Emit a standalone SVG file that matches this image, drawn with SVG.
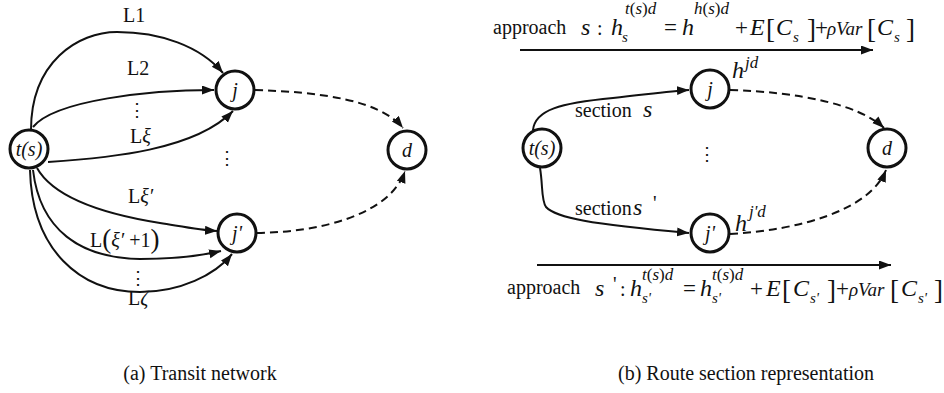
<svg xmlns="http://www.w3.org/2000/svg" width="944" height="393" viewBox="0 0 944 393" font-family="'Liberation Serif','Times New Roman',serif">
<style>
.n{fill:#fff;stroke:#111;stroke-width:3}
.e{fill:none;stroke:#111;stroke-width:2;marker-end:url(#ah)}
.d{fill:none;stroke:#111;stroke-width:2;stroke-dasharray:8 5;marker-end:url(#ah)}
text{font-family:"Liberation Serif","Times New Roman",serif;fill:#111}
.t{font-size:20px}
.m{font-size:24px;font-style:italic}
.rv{font-size:19px;font-style:italic}
.o{font-size:23px}
.i{font-style:italic}
.lb{font-size:20px;font-style:italic;text-anchor:middle}
.sup{font-size:17px;font-style:italic}
.sub{font-size:15px;font-style:italic}
.br{font-size:27px}
.dots{font-family:"DejaVu Serif",serif;font-size:18px;text-anchor:middle}
</style>
<defs>
<marker id="ah" markerUnits="userSpaceOnUse" markerWidth="14" markerHeight="10" refX="12" refY="4.5" orient="auto">
<path d="M0,0 L12,4.5 L0,9 z" fill="#111"/>
</marker>
</defs>
<g id="connectors">
<path class="e" d="M31,130 C31,62 78,32 117,32 C160,32 200,46 223,73"/>
<path class="e" d="M33,127 C55,100 150,90 214,90"/>
<path class="e" d="M48,162 C110,158 195,150 233,111"/>
<path class="e" d="M37,168 C55,200 110,215 160,223 C185,227 200,230 217,231"/>
<path class="e" d="M33,170 C40,230 80,258 140,259 C175,259 200,256 221,251"/>
<path class="e" d="M30,170 C32,250 80,292 140,292 C180,292 215,275 232,254"/>
<path class="d" d="M255,90 C320,92 380,100 403,128"/>
<path class="d" d="M257,233 C320,232 390,215 405,171"/>
<path class="e" d="M533,130 C535,110 560,103 613,98 C650,94 670,91 689,90"/>
<path class="e" d="M540,168 C543,185 541,200 546,207 C556,218 590,224 689,233"/>
<path class="d" d="M730,90 C800,92 860,105 884,128"/>
<path class="d" d="M730,234 C800,230 870,210 886,170"/>
<path class="e" d="M520,50 L873,50"/>
<path class="e" d="M537,265 L891,265"/>
</g>
<g id="node-ts-a"><circle class="n" cx="29" cy="149" r="19"/><text class="lb" x="29" y="156">t(s)</text></g>
<g id="node-j-a"><circle class="n" cx="235" cy="90" r="19"/><text class="lb" x="235" y="97">j</text></g>
<g id="node-jp-a"><circle class="n" cx="237" cy="233" r="19"/><text class="lb" x="237" y="240">j'</text></g>
<g id="node-d-a"><circle class="n" cx="407" cy="150" r="19"/><text class="lb" x="407" y="157">d</text></g>
<g id="node-ts-b"><circle class="n" cx="542" cy="148" r="19"/><text class="lb" x="542" y="155">t(s)</text></g>
<g id="node-j-b"><circle class="n" cx="710" cy="89" r="19"/><text class="lb" x="710" y="96">j</text></g>
<g id="node-jp-b"><circle class="n" cx="710" cy="233" r="19"/><text class="lb" x="710" y="240">j'</text></g>
<g id="node-d-b"><circle class="n" cx="887" cy="148" r="19"/><text class="lb" x="887" y="155">d</text></g>
<g id="labels-a">
<text class="t" x="123" y="22">L1</text>
<text class="t" x="127" y="75">L2</text>
<text class="dots" x="137" y="116">⋮</text>
<text class="t" x="130" y="143">L<tspan class="i">ξ</tspan></text>
<text class="dots" x="227" y="164">⋮</text>
<text class="t" x="128" y="203">L<tspan class="i">ξ′</tspan></text>
<text class="t" x="90" y="247">L<tspan class="br" dy="1">(</tspan><tspan class="i" dy="-1">ξ′</tspan> +1<tspan class="br" dy="1">)</tspan></text>
<text class="dots" x="138" y="284">⋮</text>
<text class="t" x="128" y="305">L<tspan class="i">ζ</tspan></text>
</g>
<g id="labels-b">
<text class="t" x="575" y="117">section</text><text class="m" x="643" y="117">s</text>
<text class="t" x="575" y="215">section</text><text class="m" x="633" y="215">s</text><text class="t" x="653" y="210">'</text>
<text class="m" x="732" y="78">h</text><text class="sup" x="745" y="68">jd</text>
<text class="m" x="735" y="231">h</text><text class="sup" x="749" y="217">j'd</text>
<text class="dots" x="707" y="160">⋮</text>
</g>
<g id="formula-top">
<text class="t" x="493" y="34">approach</text>
<text class="m" x="581" y="35">s</text>
<text class="t" x="597" y="35">:</text>
<text class="m" x="611" y="35">h</text>
<text class="sup" x="625" y="14">t<tspan font-style="normal">(</tspan>s<tspan font-style="normal">)</tspan>d</text>
<text class="sub" x="622" y="42">s</text>
<text class="o" x="664" y="35">=</text>
<text class="m" x="682" y="35">h</text>
<text class="sup" x="694" y="14">h<tspan font-style="normal">(</tspan>s<tspan font-style="normal">)</tspan>d</text>
<text class="o" x="735" y="35">+</text>
<text class="m" x="750" y="35">E</text>
<text class="br" x="766" y="38">[</text>
<text class="m" x="776" y="35">C</text>
<text class="sub" x="793" y="42">s</text>
<text class="br" x="807" y="38">]</text>
<text class="o" x="815" y="35">+</text>
<text class="rv" x="827" y="35">ρVar</text>
<text class="br" x="867" y="38">[</text>
<text class="m" x="877" y="35">C</text>
<text class="sub" x="894" y="42">s</text>
<text class="br" x="906" y="38">]</text>
</g>
<g id="formula-bottom">
<text class="t" x="507" y="294">approach</text>
<text class="m" x="595" y="296">s</text>
<text class="t" x="613" y="291">'</text>
<text class="t" x="620" y="296">:</text>
<text class="m" x="630" y="296">h</text>
<text class="sup" x="642" y="280">t<tspan font-style="normal">(</tspan>s<tspan font-style="normal">)</tspan>d</text>
<text class="sub" x="642" y="303">s'</text>
<text class="o" x="683" y="296">=</text>
<text class="m" x="700" y="296">h</text>
<text class="sup" x="712" y="280">t<tspan font-style="normal">(</tspan>s<tspan font-style="normal">)</tspan>d</text>
<text class="sub" x="712" y="303">s'</text>
<text class="o" x="750" y="296">+</text>
<text class="m" x="766" y="296">E</text>
<text class="br" x="782" y="299">[</text>
<text class="m" x="793" y="296">C</text>
<text class="sub" x="810" y="303">s'</text>
<text class="br" x="827" y="299">]</text>
<text class="o" x="836" y="296">+</text>
<text class="rv" x="849" y="296">ρVar</text>
<text class="br" x="890" y="299">[</text>
<text class="m" x="901" y="296">C</text>
<text class="sub" x="918" y="303">s'</text>
<text class="br" x="934" y="299">]</text>
</g>
<g id="captions">
<text class="t" x="200" y="380" text-anchor="middle">(a) Transit network</text>
<text class="t" x="746" y="380" text-anchor="middle">(b) Route section representation</text>
</g>
</svg>
